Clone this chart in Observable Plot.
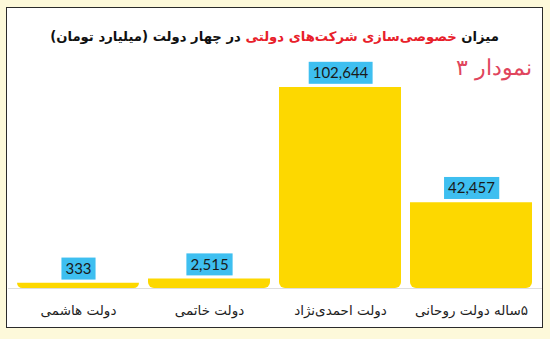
<!DOCTYPE html>
<html>
<head>
<meta charset="utf-8">
<script src="https://cdn.jsdelivr.net/npm/d3@7"></script>
<script src="https://cdn.jsdelivr.net/npm/@observablehq/plot@0.6"></script>
<style>
  html, body { margin: 0; padding: 0; background: #fdf9da; width: 550px; height: 339px; overflow: hidden; }
  #panel { position: absolute; left: 6px; top: 7px; width: 535px; height: 319px; background: #fff; border: 1.5px solid #2b2b2b; }
  #chart { position: absolute; left: 0; top: 0; }
  #title { position: absolute; left: 0; top: 21px; width: 535px; text-align: center; direction: rtl;
           font-family: "DejaVu Sans", sans-serif; font-weight: bold; font-size: 13.2px; color: #111; white-space: nowrap; }
  #title .red { color: #e8202a; }
  #subtitle { position: absolute; right: 10px; top: 47px; direction: rtl; font-family: "DejaVu Sans", sans-serif;
              font-weight: 300; font-size: 22px; color: #e0455c; white-space: nowrap; }
</style>
</head>
<body>
<div id="panel">
  <div id="chart"></div>
  <div id="title">میزان <span class="red">خصوصی‌سازی شرکت‌های دولتی</span> در چهار دولت (میلیارد تومان)</div>
  <div id="subtitle">نمودار ۳</div>
</div>
<script>
const categories = ["دولت هاشمی", "دولت خاتمی", "دولت احمدی‌نژاد", "۵ساله دولت روحانی"];
const values = [333, 2515, 102644, 42457];
const baseValue = -2400;

const data = categories.map((c, i) => ({category: c, value: values[i]}));
const fmt = d3.format(",");

const chart = Plot.plot({
  width: 535,
  height: 319,
  marginLeft: 1,
  marginRight: 0,
  marginTop: 79,
  marginBottom: 39,
  style: {background: "transparent", overflow: "visible"},
  x: {domain: categories, padding: 0.065, label: null},
  y: {domain: [baseValue, 102644], axis: null},
  marks: [
    Plot.barY(data, {x: "category", y1: baseValue, y2: "value", fill: "#fdd800", ry2: 6, rx1y2: 6, rx2y2: 6}),
    Plot.ruleY([baseValue], {stroke: "#dedede", strokeWidth: 1}),
    Plot.axisX({tickSize: 0, tickPadding: 17, fontSize: 13.5, fontFamily: "DejaVu Sans", fontWeight: 500, fill: "#1e1e1e", label: null}),
    Plot.text(data, {x: "category", y: "value", text: d => fmt(d.value), dy: -14, lineAnchor: "middle",
      fontSize: 15, fontFamily: "Lato", fill: "#1a1a1a", className: "vlabels"})
  ]
});
document.getElementById("chart").appendChild(chart);

// blue boxes behind value labels
d3.select(chart).selectAll("g.vlabels text").each(function() {
  const b = this.getBBox();
  const padX = 4, padY = 2.5;
  const parent = this.parentNode;
  const r = document.createElementNS("http://www.w3.org/2000/svg", "rect");
  r.setAttribute("x", b.x - padX);
  r.setAttribute("y", b.y - padY + 1);
  r.setAttribute("width", b.width + 2 * padX);
  r.setAttribute("height", b.height + 2 * padY - 1);
  r.setAttribute("fill", "#3ebff0");
  const t = this.getAttribute("transform");
  if (t) r.setAttribute("transform", t);
  parent.insertBefore(r, this);
});
d3.select(chart).selectAll("g[aria-label='x-axis tick label'] text").attr("direction", "rtl").attr("unicode-bidi", "plaintext");
</script>
</body>
</html>
